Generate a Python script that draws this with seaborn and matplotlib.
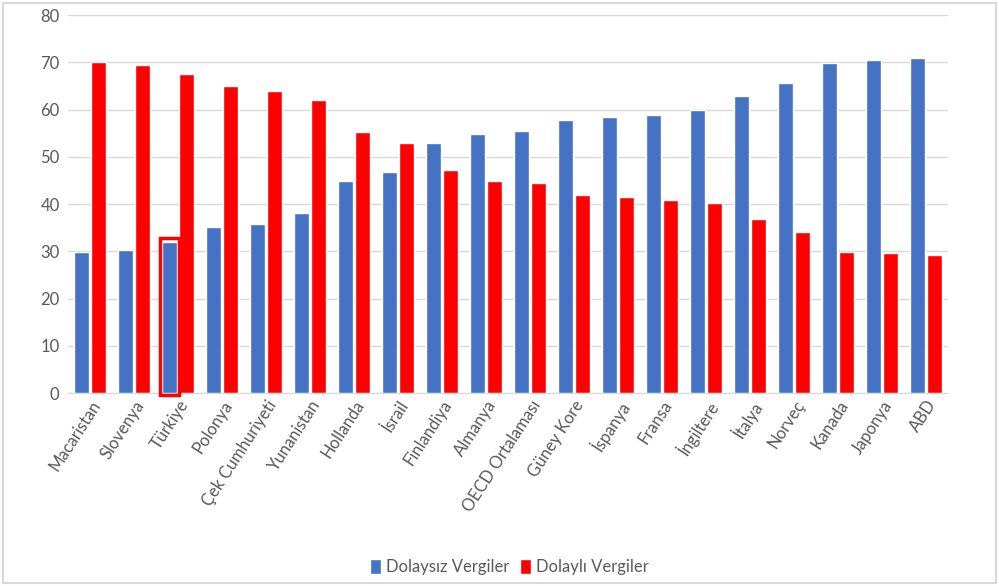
import pandas as pd
import matplotlib.pyplot as plt
import seaborn as sns
from matplotlib.patches import Rectangle

countries = ['Macaristan', 'Slovenya', 'Türkiye', 'Polonya', 'Çek Cumhuriyeti',
             'Yunanistan', 'Hollanda', 'İsrail', 'Finlandiya', 'Almanya',
             'OECD Ortalaması', 'Güney Kore', 'İspanya', 'Fransa', 'İngiltere',
             'İtalya', 'Norveç', 'Kanada', 'Japonya', 'ABD']
dolaysiz = [29.9, 30.3, 31.9, 35.1, 35.8, 38.1, 44.9, 46.8, 52.9, 54.8,
            55.5, 57.8, 58.4, 58.8, 59.9, 62.9, 65.7, 69.8, 70.5, 70.9]
dolayli = [70.1, 69.4, 67.5, 65.0, 63.9, 62.0, 55.2, 52.9, 47.2, 44.9,
           44.5, 41.9, 41.5, 40.8, 40.2, 36.8, 34.1, 29.9, 29.6, 29.2]
series = ['Dolaysız Vergiler', 'Dolaylı Vergiler']
colors = ['#4472C4', '#FF0000']

df = pd.DataFrame({'country': countries * 2,
                   'value': dolaysiz + dolayli,
                   'series': [series[0]] * len(countries) + [series[1]] * len(countries)})

sns.set_style('white')
plt.rcParams['font.family'] = ['Lato', 'DejaVu Sans']

fig = plt.figure(figsize=(9.99, 5.86), dpi=100)
ax = fig.add_axes([0.068, 0.329, 0.881, 0.645])
sns.barplot(data=df, x='country', y='value', hue='series', palette=colors,
            width=0.78, gap=0.12, ax=ax, saturation=1)

# highlight Türkiye direct-tax bar
bar = ax.containers[0][countries.index('Türkiye')]
bx, bw, bh = bar.get_x(), bar.get_width(), bar.get_height()
ax.add_patch(Rectangle((bx - 0.04, -0.4), bw + 0.08, bh + 1.3, fill=False,
                       edgecolor='#FF0000', linewidth=2.5, zorder=5, clip_on=False))

ax.set_ylim(0, 80)
ax.set_xlim(-0.5, len(countries) - 0.5)
ax.set_yticks(range(0, 81, 10))
ax.yaxis.grid(True, color='#D9D9D9', linewidth=1)
ax.set_axisbelow(True)
for s in ['top', 'right', 'left']:
    ax.spines[s].set_visible(False)
ax.spines['bottom'].set_color('#D9D9D9')
ax.set_xlabel('')
ax.set_ylabel('')
ax.tick_params(axis='y', length=0, labelsize=12, labelcolor='#595959', pad=6)
ax.tick_params(axis='x', length=0, labelsize=12, labelcolor='#595959', pad=3)
plt.setp(ax.get_xticklabels(), rotation=57, ha='right', rotation_mode='anchor')

handles, labels = ax.get_legend_handles_labels()
ax.legend_.remove()
fig.legend(handles, labels, loc='center', bbox_to_anchor=(0.51, 0.032), ncol=2,
           frameon=False, fontsize=12, handlelength=0.7, handleheight=1.0,
           handletextpad=0.3, columnspacing=0.6, labelcolor='#595959')

fig.add_artist(Rectangle((0.003, 0.005), 0.994, 0.99, transform=fig.transFigure,
                         fill=False, edgecolor='#D9D9D9', linewidth=1.5))

fig.savefig('out.png', dpi=100)
